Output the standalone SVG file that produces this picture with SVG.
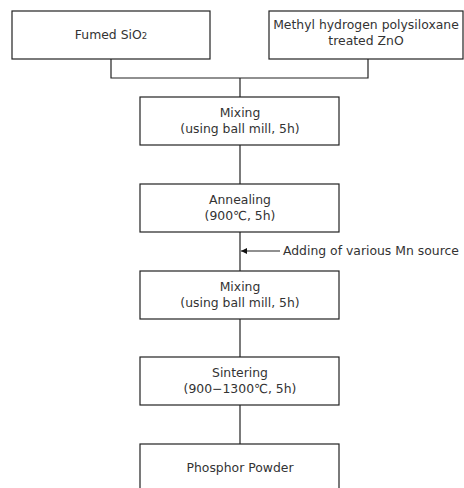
<svg xmlns="http://www.w3.org/2000/svg" width="464" height="488" viewBox="0 0 464 488">
<defs>
<style>
.box{fill:#fff;stroke:#222;stroke-width:1.2}
.t{font-family:"DejaVu Sans","Liberation Sans",sans-serif;font-size:12.4px;fill:#333;text-anchor:middle}
.c{fill:none;stroke:#222;stroke-width:1.2}
</style>
<marker id="ah" viewBox="0 0 10 10" refX="10" refY="5" markerWidth="8" markerHeight="6" markerUnits="userSpaceOnUse" orient="auto">
<path d="M0,0 L10,5 L0,10 Z" fill="#111"/>
</marker>
</defs>
<rect width="464" height="488" fill="#fff"/>
<g id="connectors">
<path class="c" d="M111,59 V78 H368 V59"/>
<path class="c" d="M240,78 V97"/>
<path class="c" d="M240,145 V184"/>
<path class="c" d="M240,232 V271"/>
<path class="c" d="M240,319 V357"/>
<path class="c" d="M240,405 V444"/>
<path class="c" d="M280,251 H241" marker-end="url(#ah)"/>
<text class="t" x="283" y="255" style="text-anchor:start">Adding of various Mn source</text>
</g>
<g id="fumed-sio2">
<rect class="box" x="12" y="11" width="198" height="48"/>
<text class="t" x="111" y="39">Fumed SiO<tspan font-size="8.5">2</tspan></text>
</g>
<g id="treated-zno">
<rect class="box" x="269" y="11" width="194" height="48"/>
<text class="t" x="366" y="29">Methyl hydrogen polysiloxane</text>
<text class="t" x="366" y="45">treated ZnO</text>
</g>
<g id="mixing-1">
<rect class="box" x="140" y="97" width="199" height="48"/>
<text class="t" x="240" y="117">Mixing</text>
<text class="t" x="240" y="133">(using ball mill, 5h)</text>
</g>
<g id="annealing">
<rect class="box" x="140" y="184" width="199" height="48"/>
<text class="t" x="240" y="204">Annealing</text>
<text class="t" x="240" y="220">(900℃, 5h)</text>
</g>
<g id="mixing-2">
<rect class="box" x="140" y="271" width="199" height="48"/>
<text class="t" x="240" y="291">Mixing</text>
<text class="t" x="240" y="307">(using ball mill, 5h)</text>
</g>
<g id="sintering">
<rect class="box" x="140" y="357" width="199" height="48"/>
<text class="t" x="240" y="377">Sintering</text>
<text class="t" x="240" y="393">(900−1300℃, 5h)</text>
</g>
<g id="phosphor-powder">
<rect class="box" x="140" y="444" width="199" height="60"/>
<text class="t" x="240" y="472">Phosphor Powder</text>
</g>
</svg>
